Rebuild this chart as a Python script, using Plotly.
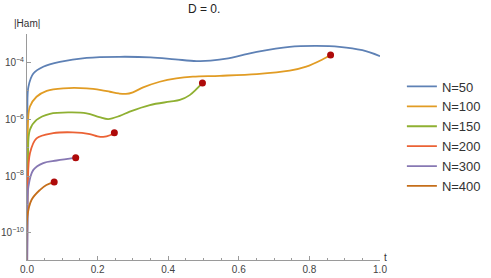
import plotly.graph_objects as go

# ---- data ----
names = ["N=50", "N=100", "N=150", "N=200", "N=300", "N=400"]
colors = ["#5E81B5", "#E19C24", "#8FB032", "#EB6235", "#8778B3", "#C56E1A"]

t50 = [0, 0.001, 0.004, 0.018, 0.046, 0.093, 0.169, 0.263, 0.35, 0.42, 0.48, 0.52, 0.57, 0.61, 0.651, 0.744, 0.82, 0.885, 0.95, 1.0]
h50 = [1e-12, 1.6e-6, 1.38e-5, 4.07e-5, 7.08e-5, 1.05e-4, 1.45e-4, 1.58e-4, 1.51e-4, 1.28e-4, 1.12e-4, 1.15e-4, 1.38e-4, 1.8e-4, 2.34e-4, 3.55e-4, 3.80e-4, 3.55e-4, 2.69e-4, 1.66e-4]

t100 = [0, 0.002, 0.008, 0.027, 0.056, 0.103, 0.169, 0.210, 0.235, 0.26, 0.28, 0.30, 0.329, 0.376, 0.423, 0.47, 0.546, 0.651, 0.744, 0.791, 0.838, 0.86]
h100 = [1e-12, 3.2e-7, 2.75e-6, 6.2e-6, 1.0e-5, 1.23e-5, 1.23e-5, 1.07e-5, 9.3e-6, 8.1e-6, 7.8e-6, 8.9e-6, 1.32e-5, 2.09e-5, 2.75e-5, 3.16e-5, 3.39e-5, 3.89e-5, 5.13e-5, 7.08e-5, 1.29e-4, 1.82e-4]

t150 = [0, 0.003, 0.008, 0.027, 0.065, 0.122, 0.169, 0.205, 0.23, 0.263, 0.291, 0.348, 0.404, 0.433, 0.461, 0.497]
h150 = [1e-12, 3.2e-8, 4.2e-7, 9.5e-7, 1.55e-6, 1.74e-6, 1.62e-6, 1.2e-6, 1.02e-6, 1.32e-6, 1.86e-6, 3.16e-6, 4.17e-6, 4.79e-6, 7.08e-6, 1.9e-5]

t200 = [0, 0.002, 0.0085, 0.027, 0.074, 0.13, 0.178, 0.20, 0.216, 0.235, 0.2475]
h200 = [1e-12, 3.2e-9, 6.5e-8, 2.14e-7, 3.24e-7, 3.47e-7, 3.02e-7, 2.51e-7, 2.40e-7, 2.75e-7, 3.39e-7]

t300 = [0, 0.002, 0.004, 0.018, 0.046, 0.084, 0.138]
h300 = [1e-12, 3.2e-10, 4.27e-9, 1.66e-8, 2.88e-8, 3.55e-8, 4.47e-8]

t400 = [0, 0.001, 0.013, 0.037, 0.055, 0.077]
h400 = [1e-12, 3.8e-10, 1.48e-9, 3.31e-9, 4.9e-9, 6.17e-9]

ts = [t50, t100, t150, t200, t300, t400]
hs = [h50, h100, h150, h200, h300, h400]

x_ticks = [0.0, 0.2, 0.4, 0.6, 0.8, 1.0]
y_major = [1e-10, 1e-8, 1e-6, 1e-4]
y_major_text = ["10<sup>−10</sup>", "10<sup>−8</sup>", "10<sup>−6</sup>", "10<sup>−4</sup>"]
y_minor = [1e-11, 1e-9, 1e-7, 1e-5, 1e-3]

FONT = "Liberation Sans, Arial, sans-serif"
AXC = "#9a9a9a"

fig = go.Figure()
for n, c, t, h in zip(names, colors, ts, hs):
    fig.add_trace(go.Scatter(x=t, y=h, mode="lines", name=n,
                             line=dict(color=c, width=1.8, shape="spline", smoothing=1.0)))
# end-point markers for truncated runs
fig.add_trace(go.Scatter(x=[t[-1] for t in ts[1:]], y=[h[-1] for h in hs[1:]],
                         mode="markers", showlegend=False,
                         marker=dict(color="#AE0A0A", size=7)))

fig.update_layout(
    width=491, height=278,
    margin=dict(l=27, r=111, t=34, b=18, autoexpand=False),
    paper_bgcolor="white", plot_bgcolor="white",
    font=dict(family=FONT, size=10, color="#444"),
    showlegend=True,
    legend=dict(x=1.062, y=0.834, xanchor="left", yanchor="top",
                font=dict(family=FONT, size=13, color="#333"),
                tracegroupgap=0, itemwidth=30, bgcolor="rgba(0,0,0,0)"),
    annotations=[
        dict(text="D = 0.", x=(204 - 27) / 353, y=1, xref="paper", yref="paper", showarrow=False,
             yanchor="bottom", yshift=16, font=dict(size=12, color="#222")),
        dict(text="|Ham|", x=0, y=1, xref="paper", yref="paper", showarrow=False,
             xanchor="center", yanchor="bottom", yshift=3, font=dict(size=10, color="#333")),
        dict(text="t", x=1, y=0, xref="paper", yref="paper", showarrow=False,
             xanchor="left", yanchor="middle", xshift=2, yshift=3, font=dict(size=10, color="#333")),
    ],
)

fig.update_xaxes(range=[0, 1], showgrid=False, zeroline=False, automargin=False,
                 showline=True, linecolor=AXC, linewidth=1,
                 tickvals=x_ticks, tickformat=".1f", ticks="inside", ticklen=4,
                 tickcolor=AXC, tickfont=dict(size=10, color="#444"),
                 minor=dict(dtick=0.05, ticks="inside", ticklen=2, tickcolor=AXC))
fig.update_yaxes(type="log", range=[-10.95, -3.0], showgrid=False, zeroline=False, automargin=False,
                 showline=True, linecolor=AXC, linewidth=1,
                 tickvals=y_major, ticktext=y_major_text, ticks="inside", ticklen=4,
                 tickcolor=AXC, tickfont=dict(size=10, color="#444"),
                 minor=dict(tickmode="array", tickvals=y_minor, ticks="inside",
                            ticklen=2, tickcolor=AXC))

# remove the browser's default 8px page margin so the figure fills the window
fig.write_html("out.html", config={"displayModeBar": False, "staticPlot": True},
               post_script="document.body.style.margin='0';")
